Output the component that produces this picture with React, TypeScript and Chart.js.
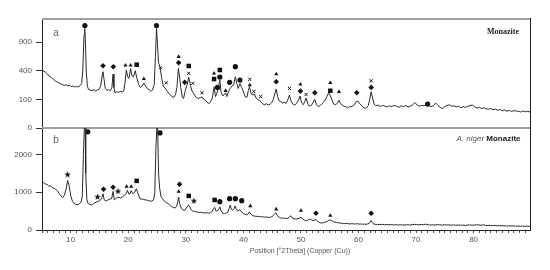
import React, { useEffect, useRef } from 'react';
import { Chart, registerables, LinearScale } from 'chart.js';

class SqrtScale extends LinearScale {
  static id = 'sqrt';
  static defaults = {};
  getPixelForValue(value: number) {
    const lo = Math.sqrt(Math.max(this.min, 0));
    const hi = Math.sqrt(this.max);
    const v = Math.sqrt(Math.max(value, 0));
    return this.getPixelForDecimal((v - lo) / (hi - lo));
  }
  getValueForPixel(pixel: number) {
    const lo = Math.sqrt(Math.max(this.min, 0));
    const hi = Math.sqrt(this.max);
    const s = lo + this.getDecimalForPixel(pixel) * (hi - lo);
    return s * s;
  }
}

Chart.register(...registerables, SqrtScale);

// ---------- axis ticks ----------
const xMin = 5;
const xMax = 89.8;
const yTicksA = [0, 100, 400, 900];
const yTicksB = [0, 1000, 2000];
const yMaxA = 1475;
const yMaxB = 2700;

// ---------- pattern (a) Monazite: [2θ, counts] ----------
const patternA: [number, number][] = [
  [5.0, 410], [5.3, 395], [5.6, 380], [5.9, 360], [6.2, 330], [6.5, 318], [6.8, 300], [7.1, 285], [7.4, 262], [7.7, 258],
  [8.0, 245], [8.3, 236], [8.6, 230], [8.9, 222], [9.2, 228], [9.5, 216], [9.8, 220], [10.1, 210], [10.4, 214], [10.7, 204],
  [11.0, 212], [11.3, 206], [11.6, 218], [11.9, 240], [12.1, 420], [12.3, 1050], [12.42, 1210], [12.55, 900], [12.7, 380], [12.9, 210],
  [13.1, 180], [13.4, 175], [13.7, 170], [14.0, 180], [14.3, 168], [14.6, 176], [14.9, 182], [15.2, 215], [15.45, 330], [15.6, 386],
  [15.8, 280], [16.0, 190], [16.3, 172], [16.6, 178], [16.9, 170], [17.15, 200], [17.35, 355], [17.5, 200], [17.7, 150], [18.0, 160],
  [18.3, 155], [18.6, 165], [18.9, 158], [19.2, 165], [19.45, 260], [19.65, 410], [19.9, 320], [20.1, 300], [20.4, 430], [20.65, 330],
  [20.9, 320], [21.2, 400], [21.5, 300], [21.8, 230], [22.1, 200], [22.4, 215], [22.7, 245], [23.0, 215], [23.3, 190], [23.6, 180],
  [23.9, 165], [24.2, 175], [24.5, 230], [24.7, 600], [24.9, 1210], [25.05, 900], [25.25, 520], [25.5, 458], [25.8, 300], [26.1, 210],
  [26.4, 195], [26.7, 170], [27.0, 150], [27.3, 132], [27.6, 120], [27.9, 114], [28.2, 135], [28.45, 200], [28.7, 434], [28.9, 330],
  [29.1, 200], [29.4, 115], [29.6, 106], [29.9, 170], [30.2, 225], [30.5, 313], [30.8, 220], [31.0, 175], [31.3, 150], [31.6, 125],
  [31.9, 110], [32.2, 106], [32.5, 112], [32.8, 118], [33.1, 100], [33.4, 95], [33.7, 80], [34.0, 73], [34.3, 85], [34.6, 110],
  [34.9, 207], [35.15, 120], [35.4, 150], [35.65, 200], [35.9, 280], [36.1, 160], [36.4, 125], [36.7, 140], [36.9, 150], [37.1, 120],
  [37.4, 160], [37.7, 190], [38.0, 215], [38.3, 225], [38.6, 320], [38.85, 240], [39.1, 190], [39.4, 240], [39.7, 200], [40.0, 160],
  [40.3, 120], [40.6, 115], [40.85, 170], [41.05, 207], [41.3, 150], [41.6, 132], [41.9, 142], [42.2, 110], [42.5, 98], [42.8, 94],
  [43.1, 80], [43.4, 70], [43.7, 66], [44.0, 72], [44.3, 65], [44.6, 68], [44.9, 78], [45.2, 100], [45.5, 150], [45.7, 185],
  [45.95, 120], [46.2, 90], [46.5, 84], [46.8, 76], [47.1, 82], [47.4, 74], [47.7, 95], [48.0, 132], [48.3, 85], [48.6, 70],
  [48.9, 64], [49.2, 72], [49.5, 90], [49.85, 125], [50.1, 76], [50.4, 66], [50.7, 88], [50.9, 110], [51.2, 70], [51.5, 58],
  [51.8, 62], [52.1, 80], [52.4, 100], [52.7, 66], [53.0, 56], [53.3, 60], [53.6, 70], [53.9, 80], [54.2, 95], [54.5, 120],
  [54.8, 150], [55.1, 130], [55.4, 94], [55.7, 70], [56.0, 66], [56.3, 74], [56.6, 94], [56.9, 72], [57.2, 64], [57.5, 58],
  [57.8, 55], [58.1, 49], [58.4, 56], [58.7, 54], [59.0, 60], [59.3, 66], [59.6, 85], [59.9, 88], [60.2, 72], [60.5, 64],
  [60.8, 52], [61.1, 48], [61.4, 50], [61.7, 62], [61.95, 100], [62.2, 160], [62.45, 110], [62.7, 70], [63.0, 60], [63.4, 64],
  [63.8, 56], [64.2, 62], [64.6, 58], [65.0, 54], [65.4, 60], [65.8, 56], [66.2, 62], [66.6, 58], [67.0, 52], [67.4, 60],
  [67.8, 56], [68.2, 62], [68.6, 54], [69.0, 58], [69.4, 66], [69.8, 79], [70.2, 64], [70.6, 58], [71.0, 62], [71.4, 60],
  [71.8, 68], [72.2, 62], [72.6, 56], [73.0, 60], [73.4, 76], [73.8, 62], [74.2, 52], [74.6, 46], [75.0, 56], [75.4, 62],
  [75.8, 66], [76.2, 58], [76.6, 60], [77.0, 54], [77.4, 58], [77.8, 50], [78.2, 56], [78.6, 52], [79.0, 58], [79.4, 62],
  [79.8, 64], [80.2, 55], [80.6, 48], [81.0, 52], [81.4, 46], [81.8, 50], [82.2, 44], [82.6, 43], [83.0, 46], [83.4, 40],
  [83.8, 44], [84.2, 38], [84.6, 42], [85.0, 36], [85.4, 40], [85.8, 34], [86.2, 38], [86.6, 33], [87.0, 37], [87.4, 35],
  [87.8, 34], [88.2, 31], [88.6, 36], [89.0, 32], [89.4, 34], [89.8, 31],
];

// ---------- pattern (b) A. niger Monazite: [2θ, counts] ----------
const patternB: [number, number][] = [
  [5.0, 1300], [5.3, 1250], [5.6, 1220], [5.9, 1200], [6.2, 1160], [6.5, 1170], [6.8, 1120], [7.1, 1110], [7.4, 1070], [7.7, 1030],
  [8.0, 960], [8.3, 900], [8.6, 860], [8.9, 920], [9.2, 1100], [9.45, 1310], [9.7, 1180], [10.0, 900], [10.3, 760], [10.6, 700],
  [10.9, 680], [11.2, 670], [11.5, 690], [11.8, 740], [12.0, 900], [12.2, 2000], [12.35, 2700], [12.5, 2700], [12.6, 1500], [12.8, 800],
  [13.0, 700], [13.3, 680], [13.6, 660], [13.9, 690], [14.2, 720], [14.5, 740], [14.8, 760], [15.1, 780], [15.4, 850], [15.6, 960],
  [15.8, 800], [16.1, 770], [16.4, 790], [16.8, 820], [17.1, 830], [17.35, 1020], [17.55, 800], [17.8, 820], [18.1, 870], [18.4, 860],
  [18.7, 850], [19.0, 880], [19.3, 910], [19.6, 960], [19.85, 1050], [20.1, 950], [20.3, 960], [20.5, 1040], [20.8, 960], [21.1, 1000],
  [21.4, 1090], [21.7, 960], [22.0, 830], [22.3, 820], [22.6, 810], [22.9, 800], [23.2, 790], [23.5, 780], [23.8, 760], [24.1, 770],
  [24.4, 800], [24.6, 1000], [24.8, 2200], [24.95, 2700], [25.1, 2700], [25.25, 1500], [25.45, 1100], [25.7, 870], [26.0, 820], [26.3, 760],
  [26.6, 730], [26.9, 700], [27.2, 660], [27.5, 620], [27.8, 600], [28.1, 580], [28.4, 620], [28.6, 760], [28.75, 870], [28.9, 700],
  [29.2, 580], [29.5, 530], [29.8, 520], [30.1, 580], [30.4, 660], [30.6, 640], [30.9, 540], [31.2, 500], [31.5, 490], [31.8, 480],
  [32.1, 470], [32.4, 460], [32.7, 468], [33.0, 455], [33.3, 450], [33.6, 460], [33.9, 445], [34.2, 450], [34.5, 480], [34.8, 560],
  [35.0, 600], [35.25, 500], [35.5, 510], [35.75, 560], [35.9, 610], [36.1, 520], [36.4, 440], [36.7, 430], [37.0, 450], [37.3, 470],
  [37.5, 560], [37.7, 660], [37.9, 560], [38.1, 520], [38.35, 560], [38.55, 640], [38.75, 560], [39.0, 500], [39.2, 520], [39.4, 540],
  [39.6, 500], [39.9, 440], [40.2, 420], [40.5, 400], [40.8, 420], [41.05, 480], [41.3, 420], [41.6, 380], [41.9, 370], [42.2, 360],
  [42.5, 362], [42.8, 350], [43.1, 355], [43.4, 345], [43.7, 340], [44.0, 345], [44.3, 332], [44.6, 338], [44.9, 350], [45.2, 380],
  [45.5, 440], [45.7, 452], [45.9, 380], [46.2, 340], [46.5, 320], [46.8, 310], [47.1, 315], [47.4, 305], [47.7, 310], [48.0, 340],
  [48.2, 380], [48.45, 320], [48.8, 300], [49.1, 290], [49.4, 295], [49.7, 310], [50.0, 340], [50.3, 290], [50.6, 260], [50.9, 248],
  [51.2, 260], [51.5, 290], [51.8, 270], [52.1, 250], [52.4, 262], [52.6, 275], [52.9, 230], [53.2, 200], [53.5, 185], [53.8, 190],
  [54.1, 200], [54.4, 215], [54.7, 240], [55.0, 268], [55.3, 250], [55.6, 220], [55.9, 210], [56.2, 200], [56.5, 190], [56.8, 185],
  [57.1, 178], [57.4, 170], [57.7, 168], [58.0, 172], [58.3, 165], [58.6, 160], [58.9, 168], [59.2, 158], [59.5, 162], [59.8, 165],
  [60.1, 156], [60.4, 160], [60.7, 152], [61.0, 158], [61.3, 150], [61.6, 160], [61.9, 180], [62.15, 250], [62.4, 200], [62.6, 160],
  [62.9, 150], [63.3, 148], [63.7, 145], [64.1, 150], [64.5, 140], [64.9, 145], [65.3, 138], [65.7, 142], [66.1, 135], [66.5, 140],
  [66.9, 132], [67.3, 138], [67.7, 130], [68.1, 135], [68.5, 140], [68.9, 132], [69.3, 138], [69.7, 150], [70.1, 145], [70.5, 135],
  [70.9, 150], [71.3, 142], [71.7, 155], [72.1, 140], [72.5, 130], [72.9, 138], [73.3, 130], [73.7, 145], [74.1, 135], [74.5, 128],
  [74.9, 140], [75.3, 132], [75.7, 136], [76.1, 128], [76.5, 134], [76.9, 125], [77.3, 132], [77.7, 126], [78.1, 130], [78.5, 122],
  [78.9, 128], [79.3, 135], [79.7, 126], [80.1, 130], [80.5, 140], [80.9, 132], [81.3, 125], [81.7, 138], [82.1, 122], [82.5, 118],
  [82.9, 125], [83.3, 115], [83.7, 120], [84.1, 112], [84.5, 118], [84.9, 110], [85.3, 115], [85.7, 105], [86.1, 112], [86.5, 104],
  [86.9, 110], [87.3, 100], [87.7, 106], [88.1, 98], [88.5, 104], [88.9, 96], [89.3, 102], [89.8, 98],
];

// ---------- phase markers, panel (a) ----------
const aDots: [number, number][] = [[12.45, 1281], [24.9, 1281], [35.5, 201], [35.9, 316], [37.6, 254], [38.6, 458], [39.4, 280], [72.0, 70]];
const aDiamonds: [number, number][] = [[15.6, 473], [17.4, 458], [28.75, 520], [29.8, 254], [45.7, 260], [49.9, 166], [52.4, 151], [59.7, 151], [62.2, 201]];
const aTriangles: [number, number][] = [[19.5, 479], [20.4, 479], [22.7, 295], [28.75, 620], [34.9, 364], [36.9, 169], [41.1, 225], [45.7, 355], [49.9, 232], [55.1, 249], [56.6, 160]];
const aSquares: [number, number][] = [[21.45, 489], [30.5, 469], [34.9, 292], [35.9, 410], [55.1, 169]];
const aCrosses: [number, number][] = [[25.6, 443], [26.6, 249], [30.5, 364], [31.2, 243], [32.8, 151], [41.1, 288], [41.8, 163], [43.0, 121], [48.0, 191], [50.9, 137], [62.2, 272]];

// ---------- phase markers, panel (b) ----------
const bDots: [number, number][] = [[12.95, 2600], [25.5, 2570], [35.9, 751], [37.6, 830], [38.6, 830], [39.7, 777]];
const bDiamonds: [number, number][] = [[15.7, 1080], [17.35, 1132], [28.9, 1212], [52.6, 443], [62.2, 443]];
const bTriangles: [number, number][] = [[19.7, 1149], [20.5, 1149], [28.75, 1016], [41.2, 637], [45.7, 549], [50.0, 512], [55.1, 380]];
const bSquares: [number, number][] = [[21.45, 1300], [30.5, 902], [35.0, 796]];
const bStars: [number, number][] = [[9.45, 1477], [14.65, 884], [18.2, 1034], [31.4, 777]];

const toXY = (arr: [number, number][]) => arr.map(([x, y]) => ({ x, y }));

function makeStar(size: number) {
  const c = document.createElement('canvas');
  c.width = size;
  c.height = size;
  const g = c.getContext('2d')!;
  const cx = size / 2, cy = size / 2 + 0.4, R = size / 2, r = R * 0.42;
  g.fillStyle = '#111';
  g.beginPath();
  for (let i = 0; i < 10; i++) {
    const ang = -Math.PI / 2 + (i * Math.PI) / 5;
    const rad = i % 2 === 0 ? R : r;
    const px = cx + Math.cos(ang) * rad;
    const py = cy + Math.sin(ang) * rad;
    if (i === 0) g.moveTo(px, py); else g.lineTo(px, py);
  }
  g.closePath();
  g.fill();
  return c;
}

const SANS = '"Liberation Sans", Arial, sans-serif';

const framePlugin = {
  id: 'xrdFrame',
  beforeDatasetsDraw(chart: any) {
    const { ctx, chartArea, scales } = chart;
    const yA = scales.yA, yB = scales.yB;
    ctx.save();
    ctx.strokeStyle = '#a0a0a0';
    ctx.lineWidth = 2;
    ctx.beginPath();
    ctx.moveTo(chartArea.left, yA.top + 1);
    ctx.lineTo(chartArea.right, yA.top + 1);
    ctx.moveTo(chartArea.left, yB.top);
    ctx.lineTo(chartArea.right, yB.top);
    ctx.stroke();
    ctx.strokeStyle = '#222';
    ctx.lineWidth = 1;
    ctx.beginPath();
    ctx.moveTo(chartArea.right + 0.5, yA.top);
    ctx.lineTo(chartArea.right + 0.5, chartArea.bottom);
    ctx.stroke();
    ctx.restore();
  },
  afterDraw(chart: any) {
    const { ctx, chartArea, scales } = chart;
    const yA = scales.yA, yB = scales.yB;
    ctx.save();
    ctx.textBaseline = 'middle';
    // panel letters
    ctx.fillStyle = '#666';
    ctx.font = `10px ${SANS}`;
    ctx.textAlign = 'center';
    ctx.fillText('a', chartArea.left + 14, yA.top + 15);
    ctx.fillText('b', chartArea.left + 14, yB.top + 12);
    // panel titles
    ctx.textAlign = 'right';
    ctx.fillStyle = '#222';
    ctx.font = 'bold 8px "Liberation Serif", "Times New Roman", serif';
    ctx.fillText('Monazite', chartArea.right - 11, yA.top + 14);
    ctx.font = `bold 8px ${SANS}`;
    const right = chartArea.right - 9.5;
    const w = ctx.measureText('Monazite').width;
    ctx.fillText('Monazite', right, yB.top + 11);
    ctx.fillStyle = '#555';
    ctx.font = `italic 8px ${SANS}`;
    ctx.fillText('A. niger ', right - w, yB.top + 11);
    // x axis title
    ctx.textAlign = 'center';
    ctx.fillStyle = '#555';
    ctx.font = `7px ${SANS}`;
    ctx.fillText('Position [°2Theta] (Copper (Cu))', 300, 251);
    ctx.restore();
  },
};

export default function App() {
  const ref = useRef<HTMLCanvasElement | null>(null);
  useEffect(() => {
    if (!ref.current) return;
    const star = makeStar(7);
    const mk = (data: [number, number][], axis: string, style: any, radius: number, bw = 0) => ({
      type: 'line',
      data: toXY(data),
      yAxisID: axis,
      showLine: false,
      pointStyle: style,
      pointRadius: radius,
      pointBackgroundColor: '#111',
      pointBorderColor: '#111',
      pointBorderWidth: bw,
      borderColor: '#111',
      backgroundColor: '#111',
    });
    const tickFont = { family: SANS, size: 8 };
    const chart = new Chart(ref.current, {
      type: 'line',
      data: {
        datasets: [
          { data: toXY(patternA), yAxisID: 'yA', borderColor: '#2a2a2a', borderWidth: 1, pointRadius: 0, tension: 0 },
          { data: toXY(patternB), yAxisID: 'yB', borderColor: '#2a2a2a', borderWidth: 1, pointRadius: 0, tension: 0 },
          mk(aDots, 'yA', 'circle', 2.6),
          mk(aDiamonds, 'yA', 'rectRot', 2.8),
          mk(aTriangles, 'yA', 'triangle', 2.4),
          mk(aSquares, 'yA', 'rect', 3.2),
          mk(aCrosses, 'yA', 'crossRot', 2.2, 1),
          mk(bDots, 'yB', 'circle', 2.6),
          mk(bDiamonds, 'yB', 'rectRot', 2.8),
          mk(bTriangles, 'yB', 'triangle', 2.4),
          mk(bSquares, 'yB', 'rect', 3.2),
          mk(bStars, 'yB', star, 3.5),
        ] as any,
      },
      options: {
        responsive: false,
        animation: false,
        devicePixelRatio: 1,
        events: [],
        layout: { padding: { left: 0, right: 20, top: 18, bottom: 0 } },
        plugins: { legend: { display: false }, tooltip: { enabled: false }, title: { display: false } },
        scales: {
          x: {
            type: 'linear',
            position: 'bottom',
            min: xMin,
            max: xMax,
            afterFit: (s: any) => { s.height = 40; },
            ticks: {
              stepSize: 1,
              autoSkip: false,
              maxRotation: 0,
              includeBounds: false,
              padding: 2,
              color: '#555',
              font: tickFont,
              callback: (v: any) => (Number(v) % 10 === 0 ? String(v) : ''),
            },
            grid: { drawOnChartArea: false, drawTicks: true, tickLength: 3, color: '#555' },
            border: { color: '#222', width: 1 },
          },
          yB: {
            type: 'linear',
            position: 'left',
            stack: 'xrd',
            stackWeight: 102,
            weight: 1,
            min: 0,
            max: yMaxB,
            afterBuildTicks: (s: any) => { s.ticks = yTicksB.map((v) => ({ value: v })); },
            afterFit: (s: any) => { s.width = 42; },
            ticks: { color: '#555', font: tickFont, padding: 4, callback: (v: any) => String(v) },
            grid: { drawOnChartArea: false, drawTicks: true, tickLength: 6, color: '#333' },
            border: { color: '#222', width: 1 },
          },
          yA: {
            type: 'sqrt',
            position: 'left',
            stack: 'xrd',
            stackWeight: 110,
            weight: 2,
            min: 0,
            max: yMaxA,
            afterBuildTicks: (s: any) => { s.ticks = yTicksA.map((v) => ({ value: v })); },
            afterFit: (s: any) => { s.width = 42; },
            ticks: { color: '#555', font: tickFont, padding: 4, callback: (v: any) => String(v) },
            grid: { drawOnChartArea: false, drawTicks: true, tickLength: 6, color: '#333' },
            border: { color: '#222', width: 1 },
          },
        } as any,
      },
      plugins: [framePlugin],
    } as any);
    return () => chart.destroy();
  }, []);
  return (
    <div style={{ position: 'fixed', left: 0, top: 0, width: 550, height: 270, background: '#fff' }}>
      <canvas ref={ref} width={550} height={270} style={{ display: 'block', width: 550, height: 270 }} />
    </div>
  );
}
